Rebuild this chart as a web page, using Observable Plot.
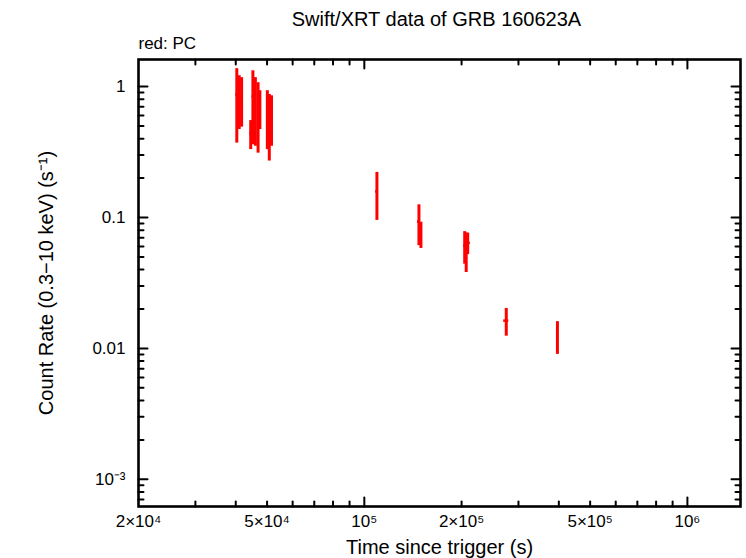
<!DOCTYPE html>
<html><head><meta charset="utf-8">
<script src="https://cdn.jsdelivr.net/npm/d3@7"></script>
<script src="https://cdn.jsdelivr.net/npm/@observablehq/plot@0.6"></script>
<style>body{margin:0;background:#fff} #chart{width:746px;height:558px}</style>
</head><body><div id="chart"></div>
<script>
// Swift/XRT PC-mode light curve
const time    = [40300, 41000, 41700, 44500, 45200, 46000, 46900, 47500, 50100, 50800, 51600, 109400, 147600, 149700, 204500, 206700, 208900, 275000, 396000];
const timeErr = [300, 300, 300, 300, 300, 300, 300, 300, 300, 300, 300, 1000, 1500, 1500, 1500, 1500, 4000, 5000, 2000];
const rate    = [0.87, 0.84, 0.83, 0.44, 0.84, 0.76, 0.69, 0.70, 0.63, 0.57, 0.60, 0.158, 0.093, 0.075, 0.061, 0.057, 0.064, 0.0163, 0.0125];
const rateErr = [0.50, 0.37, 0.34, 0.11, 0.48, 0.41, 0.38, 0.23, 0.30, 0.30, 0.25, 0.063, 0.032, 0.017, 0.017, 0.019, 0.012, 0.0039, 0.0035];

const xLabelTicks = [2e4, 5e4, 1e5, 2e5, 5e5, 1e6];
const xLabelTexts = ["2×10⁴", "5×10⁴", "10⁵", "2×10⁵", "5×10⁵", "10⁶"];
const xMajorTicks = [1e5, 1e6];
const xMinorTicks = [3e4, 4e4, 5e4, 6e4, 7e4, 8e4, 9e4, 2e5, 3e5, 4e5, 5e5, 6e5, 7e5, 8e5, 9e5];
const yLabelTicks = [1, 0.1, 0.01, 0.001];
const yLabelTexts = ["1", "0.1", "0.01", "10⁻³"];
const yMinorTicks = [7e-4, 8e-4, 9e-4, 2e-3, 3e-3, 4e-3, 5e-3, 6e-3, 7e-3, 8e-3, 9e-3,
  0.02, 0.03, 0.04, 0.05, 0.06, 0.07, 0.08, 0.09, 0.2, 0.3, 0.4, 0.5, 0.6, 0.7, 0.8, 0.9];

const title = "Swift/XRT data of GRB 160623A";
const legendText = "red: PC";
const xTitle = "Time since trigger (s)";
const yTitle = "Count Rate (0.3−10 keV) (s⁻¹)";

const data = time.map((t, i) => ({
  t, r: rate[i],
  lo: rate[i] - rateErr[i], hi: rate[i] + rateErr[i],
  t1: t - timeErr[i], t2: t + timeErr[i]
}));

const font = "Liberation Sans, Arial, sans-serif";
const tickShape = {draw(context, l) { context.moveTo(0, 0); context.lineTo(0, -l); }};
const tick = (ticks, ch, frameAnchor, rotate, length) =>
  Plot.vector(ticks, {[ch]: d => d, frameAnchor, rotate, length, anchor: "start",
    shape: tickShape, stroke: "black", strokeWidth: 2});

const chart = Plot.plot({
  width: 746, height: 558,
  marginLeft: 138, marginRight: 6, marginTop: 59, marginBottom: 52,
  style: {fontFamily: font, fontSize: "17px", background: "white", color: "black"},
  x: {type: "log", domain: [2e4, 1.46e6], axis: null},
  y: {type: "log", domain: [6.2e-4, 1.61], axis: null},
  marks: [
    // inward ticks on all four sides
    tick(xMinorTicks, "x", "bottom", 0, 5),
    tick(xMajorTicks, "x", "bottom", 0, 9),
    tick(xMinorTicks, "x", "top", 180, 5),
    tick(xMajorTicks, "x", "top", 180, 9),
    tick(yMinorTicks, "y", "left", 90, 5),
    tick(yLabelTicks, "y", "left", 90, 9),
    tick(yMinorTicks, "y", "right", -90, 5),
    tick(yLabelTicks, "y", "right", -90, 9),
    // tick labels
    Plot.text(xLabelTicks, {x: d => d, text: (d, i) => xLabelTexts[i], frameAnchor: "bottom",
      textAnchor: "middle", lineAnchor: "top", dy: 8, fontSize: 17}),
    Plot.text(yLabelTicks, {y: d => d, text: (d, i) => yLabelTexts[i], frameAnchor: "left",
      textAnchor: "end", lineAnchor: "middle", dx: -13, fontSize: 17}),
    // data: error bars
    Plot.ruleX(data, {x: "t", y1: "lo", y2: "hi", stroke: "#ff0000", strokeWidth: 3}),
    Plot.ruleY(data, {y: "r", x1: "t1", x2: "t2", stroke: "#ff0000", strokeWidth: 2.5}),
    Plot.frame({stroke: "black", strokeWidth: 2.6}),
    // titles
    Plot.text([title], {frameAnchor: "top", textAnchor: "middle", lineAnchor: "middle", dx: -3, dy: -40, fontSize: 20}),
    Plot.text([legendText], {frameAnchor: "top-left", textAnchor: "start", lineAnchor: "middle", dy: -16, fontSize: 17}),
    Plot.text([xTitle], {frameAnchor: "bottom", textAnchor: "middle", lineAnchor: "middle", dy: 41, fontSize: 20}),
    Plot.text([yTitle], {frameAnchor: "left", textAnchor: "middle", lineAnchor: "middle", rotate: -90, dx: -92, fontSize: 20})
  ]
});
document.getElementById("chart").append(chart);
</script>
</body></html>
